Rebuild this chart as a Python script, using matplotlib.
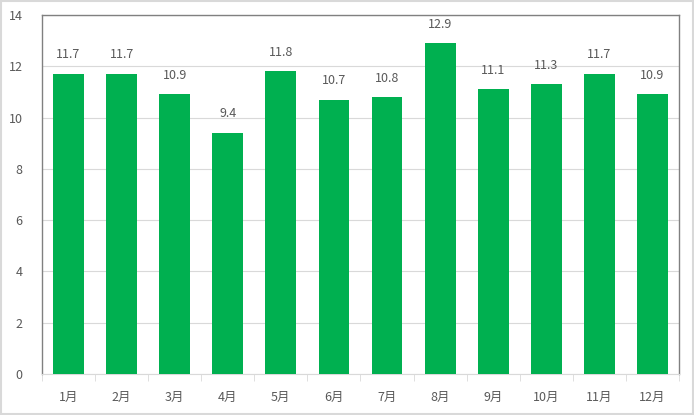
import matplotlib.pyplot as plt
import numpy as np

plt.rcParams['font.family'] = ['Noto Sans CJK JP', 'DejaVu Sans']

months = ['1月', '2月', '3月', '4月', '5月', '6月', '7月', '8月', '9月', '10月', '11月', '12月']
values = [11.7, 11.7, 10.9, 9.4, 11.8, 10.7, 10.8, 12.9, 11.1, 11.3, 11.7, 10.9]

txt = '#595959'
fig = plt.figure(figsize=(6.94, 4.15), dpi=100)
ax = fig.add_axes([0.0605, 0.0988, 0.9179, 0.8651])

x = np.arange(len(months))
ax.bar(x, values, width=0.58, color='#00b050', zorder=3)
for xi, v in zip(x, values):
    ax.annotate(f'{v:.1f}', (xi, v), xytext=(0, 9), textcoords='offset points',
                ha='center', va='bottom', fontsize=9, color=txt)

ax.set_xlim(-0.5, len(months) - 0.5)
ax.set_ylim(0, 14)
ax.set_yticks(range(0, 15, 2))
ax.grid(axis='y', color='#d9d9d9', linewidth=0.8, zorder=0)

ax.set_xticks(x)
ax.set_xticklabels(months)
ax.set_xticks(np.arange(-0.5, len(months)), minor=True)
ax.tick_params(axis='x', which='major', length=0, pad=12, labelsize=9, labelcolor=txt)
ax.tick_params(axis='x', which='minor', length=5, color='#d9d9d9')
ax.tick_params(axis='y', length=0, pad=14, labelsize=9, labelcolor=txt)

for s in ['left', 'right', 'top']:
    ax.spines[s].set_color('#808080')
    ax.spines[s].set_linewidth(1)
ax.spines['bottom'].set_color('#d9d9d9')

fig.patches.append(plt.Rectangle((0.001, 0.002), 0.997, 0.996, transform=fig.transFigure,
                                 fill=False, edgecolor='#d9d9d9', linewidth=1.5))

fig.savefig('out.png', dpi=100)
